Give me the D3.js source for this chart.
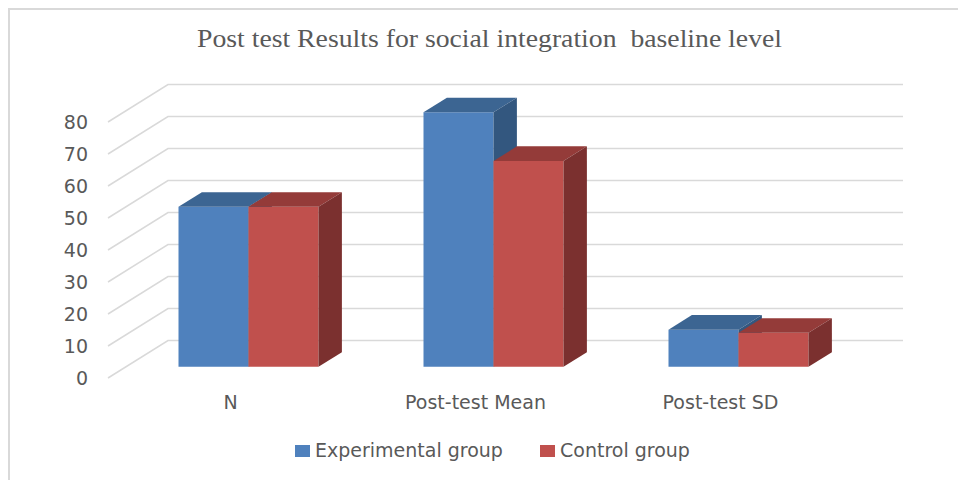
<!DOCTYPE html>
<html>
<head>
<meta charset="utf-8">
<script src="https://cdn.jsdelivr.net/npm/d3@7"></script>
<style>
  html, body { margin: 0; padding: 0; background: #fff; }
  svg { display: block; }
</style>
</head>
<body>
<div id="chart"></div>
<script>
const categories = ['N', 'Post-test Mean', 'Post-test SD'];
const seriesNames = ['Experimental group', 'Control group'];
const experimental = [50, 79.5, 11.6];
const control = [50, 64.3, 10.6];
const yTicks = [0, 10, 20, 30, 40, 50, 60, 70, 80];
const title = 'Post test Results for social integration  baseline level';

const width = 958;
const height = 480;
const DX = 60;      // depth offset of the back wall
const DY = -37.5;
const zFront = 0.3; // bar depth range, as a fraction of the wall depth
const zBack = 0.69;
const labelFont = '"DejaVu Sans", sans-serif';
const labelSize = '19px';

const faces = {
  'Experimental group': { front: '#4f81bd', top: '#3c6592', side: '#33577f' },
  'Control group': { front: '#c0504d', top: '#943b39', side: '#7b302f' }
};

const svg = d3.select('#chart').append('svg')
  .attr('width', width)
  .attr('height', height);

// chart frame (only top/left edges visible)
svg.append('path')
  .attr('d', 'M9,480 V9 H958')
  .attr('fill', 'none')
  .attr('stroke', '#d9d9d9')
  .attr('stroke-width', 2);

svg.append('text')
  .attr('x', 197)
  .attr('y', 47)
  .attr('textLength', 585)
  .attr('lengthAdjust', 'spacingAndGlyphs')
  .style('white-space', 'pre')
  .style('font-family', '"Liberation Serif", "Times New Roman", serif')
  .style('font-size', '25px')
  .style('fill', '#595959')
  .text(title);

const x = d3.scaleBand().domain(categories).range([108, 843]);
const y = d3.scaleLinear().domain([0, 80]).range([378, 122]);
const xs = d3.scaleBand().domain(seriesNames).range([-70, 70]);

const proj = (px, v, z) => [px + z * DX, y(v) + z * DY];

// gridlines: side wall obliques + back wall horizontals
const grid = svg.append('g')
  .attr('stroke', '#d9d9d9')
  .attr('stroke-width', 1.5)
  .attr('fill', 'none');

yTicks.forEach(t => {
  const a = proj(x.range()[0], t, 0);
  const b = proj(x.range()[0], t, 1);
  const c = proj(x.range()[1], t, 1);
  grid.append('path').attr('d', `M${a}L${b}L${c}`);
});

// y axis labels
const yAxis = d3.axisLeft(y).tickValues(yTicks).tickSize(0).tickPadding(0);
svg.append('g')
  .attr('transform', 'translate(88,0)')
  .call(yAxis)
  .call(g => g.select('.domain').remove())
  .selectAll('text')
  .style('font-family', labelFont)
  .style('font-size', labelSize)
  .style('fill', '#595959');

// bars, left to right
const bars = [];
categories.forEach((c, i) => {
  bars.push({ cat: c, series: seriesNames[0], value: experimental[i] });
  bars.push({ cat: c, series: seriesNames[1], value: control[i] });
});

const poly = pts => 'M' + pts.map(p => p.join(',')).join('L') + 'Z';

const barG = svg.append('g');
bars.forEach(d => {
  const x0 = x(d.cat) + x.bandwidth() / 2 + xs(d.series);
  const x1 = x0 + xs.bandwidth();
  const col = faces[d.series];
  const g = barG.append('g');
  g.append('path')
    .attr('d', poly([proj(x0, 0, zFront), proj(x1, 0, zFront), proj(x1, d.value, zFront), proj(x0, d.value, zFront)]))
    .attr('fill', col.front);
  g.append('path')
    .attr('d', poly([proj(x0, d.value, zFront), proj(x1, d.value, zFront), proj(x1, d.value, zBack), proj(x0, d.value, zBack)]))
    .attr('fill', col.top);
  g.append('path')
    .attr('d', poly([proj(x1, 0, zFront), proj(x1, 0, zBack), proj(x1, d.value, zBack), proj(x1, d.value, zFront)]))
    .attr('fill', col.side);
});

// category labels
const xAxis = d3.axisBottom(x).tickSize(0).tickPadding(0);
svg.append('g')
  .attr('transform', 'translate(0,395)')
  .call(xAxis)
  .call(g => g.select('.domain').remove())
  .selectAll('text')
  .attr('dy', '0.71em')
  .style('font-family', labelFont)
  .style('font-size', labelSize)
  .style('fill', '#595959');

// legend
const legendX = [295, 540];
const legend = svg.append('g');
seriesNames.forEach((s, i) => {
  legend.append('rect')
    .attr('x', legendX[i])
    .attr('y', 445)
    .attr('width', 15)
    .attr('height', 12)
    .attr('fill', faces[s].front);
  legend.append('text')
    .attr('x', legendX[i] + 20)
    .attr('y', 457)
    .style('font-family', labelFont)
    .style('font-size', labelSize)
    .style('fill', '#595959')
    .text(s);
});
</script>
</body>
</html>
